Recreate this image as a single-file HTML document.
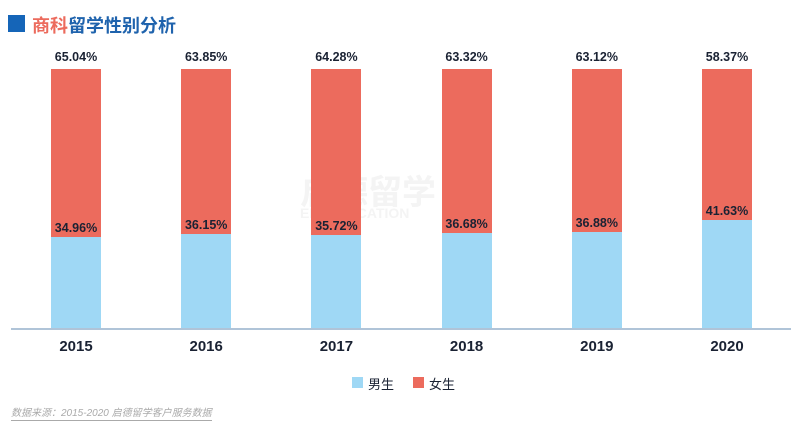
<!DOCTYPE html>
<html><head><meta charset="utf-8"><style>
body{margin:0;width:803px;height:435px;background:#fff;font-family:"Liberation Sans","Noto Sans CJK SC",sans-serif;position:relative;overflow:hidden}
.a{position:absolute}
.bar{position:absolute;width:50px}
.lb{position:absolute;width:80px;text-align:center;font-size:12.5px;font-weight:bold;color:#1a2233}
.yr{position:absolute;width:80px;text-align:center;font-size:15px;font-weight:bold;color:#1a2233;top:338px}
</style></head><body>
<div class="a" style="left:8px;top:15px;width:17px;height:17px;background:#1565b8"></div>
<div class="a" style="left:32px;top:12px;font-size:18px;font-weight:bold;color:#1f63ad;white-space:nowrap"><span style="color:#ec6b5d">商科</span>留学性别分析</div>
<div class="a" style="left:300px;top:165px;font-size:34px;font-weight:bold;color:#f4f4f4">启德留学</div>
<div class="a" style="left:300px;top:205px;font-size:14px;font-weight:bold;color:#f4f4f4">EIC EDUCATION</div>
<div id="c"></div>
<div class="a" style="left:11px;top:328px;width:780px;height:2px;background:#b0c4d8"></div>
<div class="a" style="left:352px;top:377px;width:11px;height:11px;background:#9fd8f5"></div>
<div class="a" style="left:368px;top:374px;font-size:13px;color:#1a2233">男生</div>
<div class="a" style="left:413px;top:377px;width:11px;height:11px;background:#ec6b5d"></div>
<div class="a" style="left:429px;top:374px;font-size:13px;color:#1a2233">女生</div>
<div class="a" style="left:11px;top:407px;font-size:10px;font-style:italic;color:#aaa;border-bottom:1px solid #aaa;line-height:13px">数据来源：2015-2020 启德留学客户服务数据</div>
<script>
var d=[[2015,65.04,34.96],[2016,63.85,36.15],[2017,64.28,35.72],[2018,63.32,36.68],[2019,63.12,36.88],[2020,58.37,41.63]];
var h='',T=69,H=259;
d.forEach(function(r,i){var x=51+i*130.2,b=328-r[2]/100*H;
h+='<div class="bar" style="left:'+x+'px;top:'+T+'px;height:'+(b-T)+'px;background:#ec6b5d"></div>';
h+='<div class="bar" style="left:'+x+'px;top:'+b+'px;height:'+(328-b)+'px;background:#9fd8f5"></div>';
h+='<div class="lb" style="left:'+(x-15)+'px;top:50px">'+r[1].toFixed(2)+'%</div>';
h+='<div class="lb" style="left:'+(x-15)+'px;top:'+(b-16)+'px">'+r[2].toFixed(2)+'%</div>';
h+='<div class="yr" style="left:'+(x-15)+'px">'+r[0]+'</div>';});
document.getElementById('c').innerHTML=h;
</script>
</body></html>
